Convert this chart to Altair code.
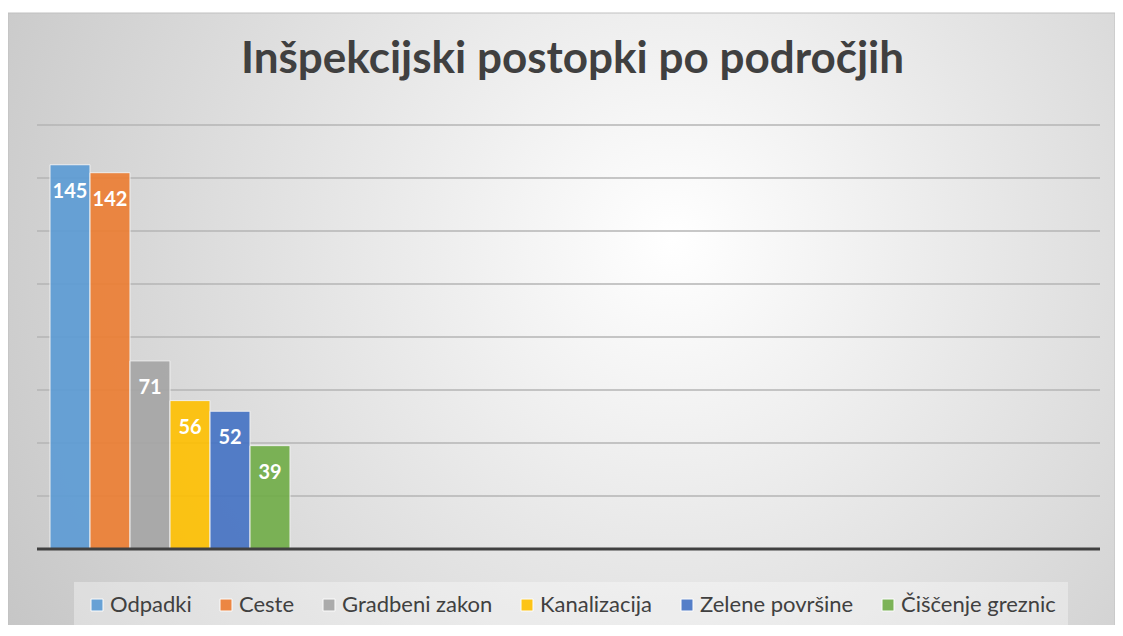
import altair as alt
import pandas as pd

# ---- data ----
naslov = "Inšpekcijski postopki po področjih"
podrocja = ["Odpadki", "Ceste", "Gradbeni zakon", "Kanalizacija", "Zelene površine", "Čiščenje greznic"]
postopki = [145, 142, 71, 56, 52, 39]
barve = ["#5B9BD5", "#ED7D31", "#A5A5A5", "#FFC000", "#4472C4", "#70AD47"]
mreza = [20, 40, 60, 80, 100, 120, 140, 160]

W, H = 1107, 612

df = pd.DataFrame({"podrocje": podrocja, "postopki": postopki})
grid_df = pd.DataFrame({"v": mreza})
base_df = pd.DataFrame({"v": [0]})
bg_df = pd.DataFrame({"a": [0]})

yscale = alt.Scale(domain=[-28.68, 202.26], nice=False, zero=False)
xscale = alt.Scale(domain=podrocja, range=[42, 282], paddingInner=0, paddingOuter=0)

bg = alt.Chart(bg_df).mark_rect(
    color=alt.Gradient(
        gradient="radial",
        x1=0.6, y1=0.42, r1=0.0,
        x2=0.6, y2=0.42, r2=0.72,
        stops=[alt.GradientStop(color="#ffffff", offset=0),
               alt.GradientStop(color="#c4c4c4", offset=1)],
    ),
    stroke="#c0c0c0", strokeWidth=1,
).encode(x=alt.value(0), x2=alt.value(W), y=alt.value(0), y2=alt.value(H + 20))

grid = alt.Chart(grid_df).mark_rule(color="#b4b4b4", strokeWidth=1.3).encode(
    y=alt.Y("v:Q", scale=yscale, axis=None),
    x=alt.value(29), x2=alt.value(1092),
)

bars = alt.Chart(df).mark_bar(
    opacity=0.9, stroke="#f2f2f2", strokeWidth=1
).encode(
    x=alt.X("podrocje:N", scale=xscale, axis=None, sort=podrocja),
    y=alt.Y("postopki:Q", scale=yscale, axis=None),
    y2=alt.Y2(datum=0),
    color=alt.Color(
        "podrocje:N",
        scale=alt.Scale(domain=podrocja, range=barve),
        legend=alt.Legend(
            title=None, orient="none", direction="horizontal",
            legendX=66, legendY=569,
            symbolType="square", symbolSize=144, symbolStrokeColor="#ffffff",
            symbolStrokeWidth=1, symbolOpacity=0.9,
            labelFont="Lato", labelFontSize=22, labelColor="#404040",
            labelLimit=0, labelOffset=2, columnPadding=23, symbolOffset=0,
            padding=12, fillColor="rgba(255,255,255,0.35)",
        ),
    ),
)

baseline = alt.Chart(base_df).mark_rule(color="#404040", strokeWidth=3).encode(
    y=alt.Y("v:Q", scale=yscale, axis=None),
    x=alt.value(29), x2=alt.value(1092),
)

labels = alt.Chart(df).mark_text(
    color="white", fontWeight="bold", fontSize=20, font="Lato",
    baseline="middle", dy=27,
).encode(
    x=alt.X("podrocje:N", scale=xscale, axis=None, sort=podrocja),
    y=alt.Y("postopki:Q", scale=yscale, axis=None),
    text="postopki:Q",
)

chart = alt.layer(bg, grid, bars, baseline, labels).properties(
    width=W, height=H,
    title=alt.TitleParams(
        naslov, font="Lato", fontSize=44, fontWeight="bold", color="#404040",
        anchor="middle", offset=-67, baseline="alphabetic", dx=11, dy=37,
    ),
    autosize="none",
    padding={"left": 0, "top": 5, "right": 0, "bottom": 0},
).configure_view(stroke=None)

chart.save("out.html", embed_options={"renderer": "svg", "actions": False})
